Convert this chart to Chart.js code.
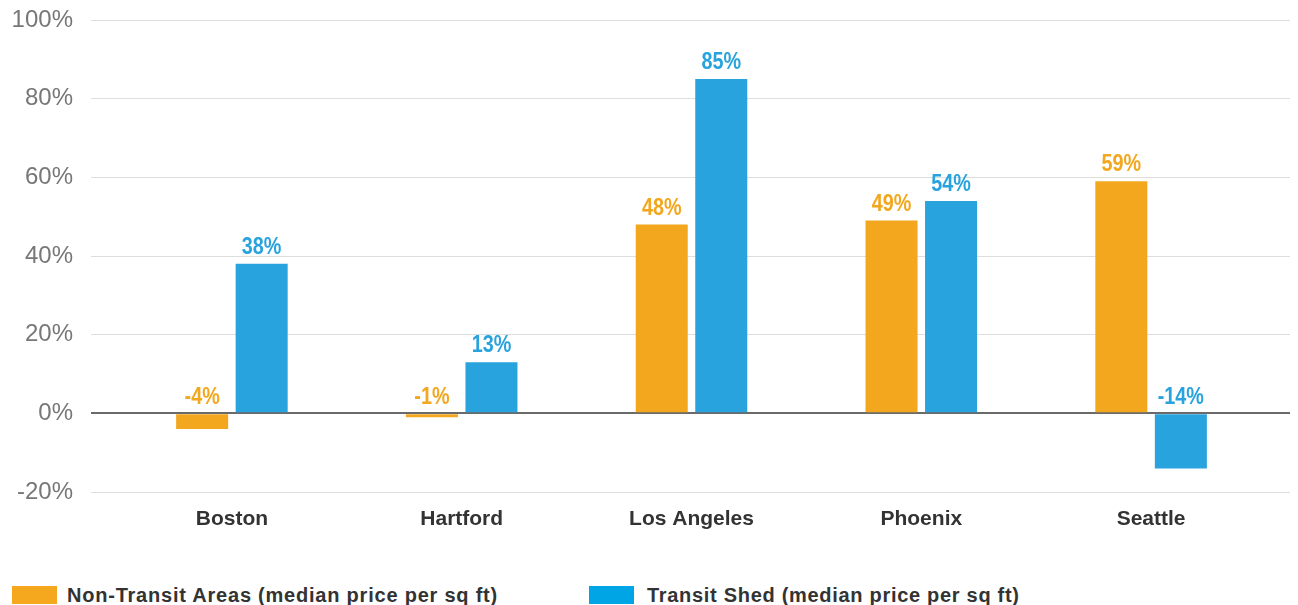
<!DOCTYPE html>
<html><head><meta charset="utf-8">
<script src="https://cdn.jsdelivr.net/npm/chart.js@4.4.1/dist/chart.umd.min.js"></script>
<style>
html,body{margin:0;padding:0;background:#fff;}
#wrap{position:relative;width:1298px;height:605px;overflow:hidden;}
#chartBox{position:absolute;left:0;top:0;width:1298px;height:545px;}
#legend{position:absolute;left:0;top:586px;width:1298px;height:19px;font-family:"Liberation Sans",Arial,sans-serif;font-weight:bold;font-size:20px;color:#333;}
.li{position:absolute;top:0;display:flex;align-items:center;height:18px;white-space:nowrap;line-height:18px;}
.li:nth-child(1){left:12px;letter-spacing:0.78px;}
.li:nth-child(2){left:589px;letter-spacing:0.7px;}
.li .sw{width:45px;height:18px;margin-right:10px;flex:none;}
.li:nth-child(2) .sw{margin-right:13px;}
</style></head>
<body>
<div id="wrap"><div id="chartBox"><canvas id="c"></canvas></div><div id="legend"></div></div>
<script>
const categories = ['Boston', 'Hartford', 'Los Angeles', 'Phoenix', 'Seattle'];
const nonTransit = [-4, -1, 48, 49, 59];
const transitShed = [38, 13, 85, 54, -14];
const seriesNames = ['Non-Transit Areas (median price per sq ft)', 'Transit Shed (median price per sq ft)'];
const yTicks = [-20, 0, 20, 40, 60, 80, 100];

const barColors = ['#F2A71F', '#28A3DD'];
const legendColors = ['#F5A81D', '#00A5E5'];

const gridColor = ctx => (ctx.tick && ctx.tick.value === 0) ? '#6a6a6a' : '#dddddd';
const gridWidth = ctx => (ctx.tick && ctx.tick.value === 0) ? 2 : 1;

const valueLabels = {
  id: 'valueLabels',
  afterDatasetsDraw(chart) {
    const ctx = chart.ctx;
    const sx = 0.86;
    chart.data.datasets.forEach((ds, di) => {
      const meta = chart.getDatasetMeta(di);
      meta.data.forEach((bar, i) => {
        const v = ds.data[i];
        const top = v >= 0 ? bar.y : bar.base;
        ctx.save();
        ctx.font = 'bold 23px "Liberation Sans", Arial, sans-serif';
        ctx.textAlign = 'center';
        ctx.textBaseline = 'alphabetic';
        ctx.fillStyle = barColors[di];
        ctx.translate(bar.x, top - 10);
        ctx.scale(sx, 1);
        ctx.fillText(v + '%', 0, 0);
        ctx.restore();
      });
    });
  }
};

const htmlLegend = {
  id: 'htmlLegend',
  afterUpdate(chart) {
    const box = document.getElementById('legend');
    box.innerHTML = '';
    chart.data.datasets.forEach((ds, i) => {
      const item = document.createElement('div');
      item.className = 'li';
      const sw = document.createElement('span');
      sw.className = 'sw';
      sw.style.background = legendColors[i];
      const tx = document.createElement('span');
      tx.textContent = ds.label;
      item.appendChild(sw);
      item.appendChild(tx);
      box.appendChild(item);
    });
  }
};

new Chart(document.getElementById('c'), {
  type: 'bar',
  data: {
    labels: categories,
    datasets: [
      { label: seriesNames[0], data: nonTransit, backgroundColor: barColors[0], categoryPercentage: 0.518, barPercentage: 0.874 },
      { label: seriesNames[1], data: transitShed, backgroundColor: barColors[1], categoryPercentage: 0.518, barPercentage: 0.874 }
    ]
  },
  options: {
    responsive: true,
    maintainAspectRatio: false,
    animation: false,
    layout: { padding: { top: 20, right: 0, bottom: 0, left: 0 } },
    plugins: { legend: { display: false }, tooltip: { enabled: false } },
    scales: {
      x: {
        grid: { display: false, drawTicks: false },
        border: { display: false },
        ticks: { color: '#333', font: { family: '"Liberation Sans", Arial, sans-serif', size: 21, weight: 'bold' }, padding: 15 },
        afterFit: s => { s.height = 53; }
      },
      y: {
        min: -20, max: 100,
        afterBuildTicks: s => { s.ticks = yTicks.map(v => ({ value: v })); },
        grid: { color: gridColor, tickColor: gridColor, lineWidth: gridWidth, drawTicks: true, tickLength: 26 },
        border: { display: false },
        ticks: { color: '#777', font: { family: '"Liberation Sans", Arial, sans-serif', size: 24, lineHeight: 0.1 }, padding: 18, callback: v => v + '%' },
        afterFit: s => { s.width = 117; }
      },
      y2: {
        position: 'right',
        min: -20, max: 100,
        afterBuildTicks: s => { s.ticks = yTicks.map(v => ({ value: v })); },
        grid: { color: gridColor, tickColor: gridColor, lineWidth: gridWidth, drawOnChartArea: false, drawTicks: true, tickLength: 24 },
        border: { display: false },
        ticks: { display: false },
        afterFit: s => { s.width = 32; }
      }
    }
  },
  plugins: [valueLabels, htmlLegend]
});
</script>
</body></html>
